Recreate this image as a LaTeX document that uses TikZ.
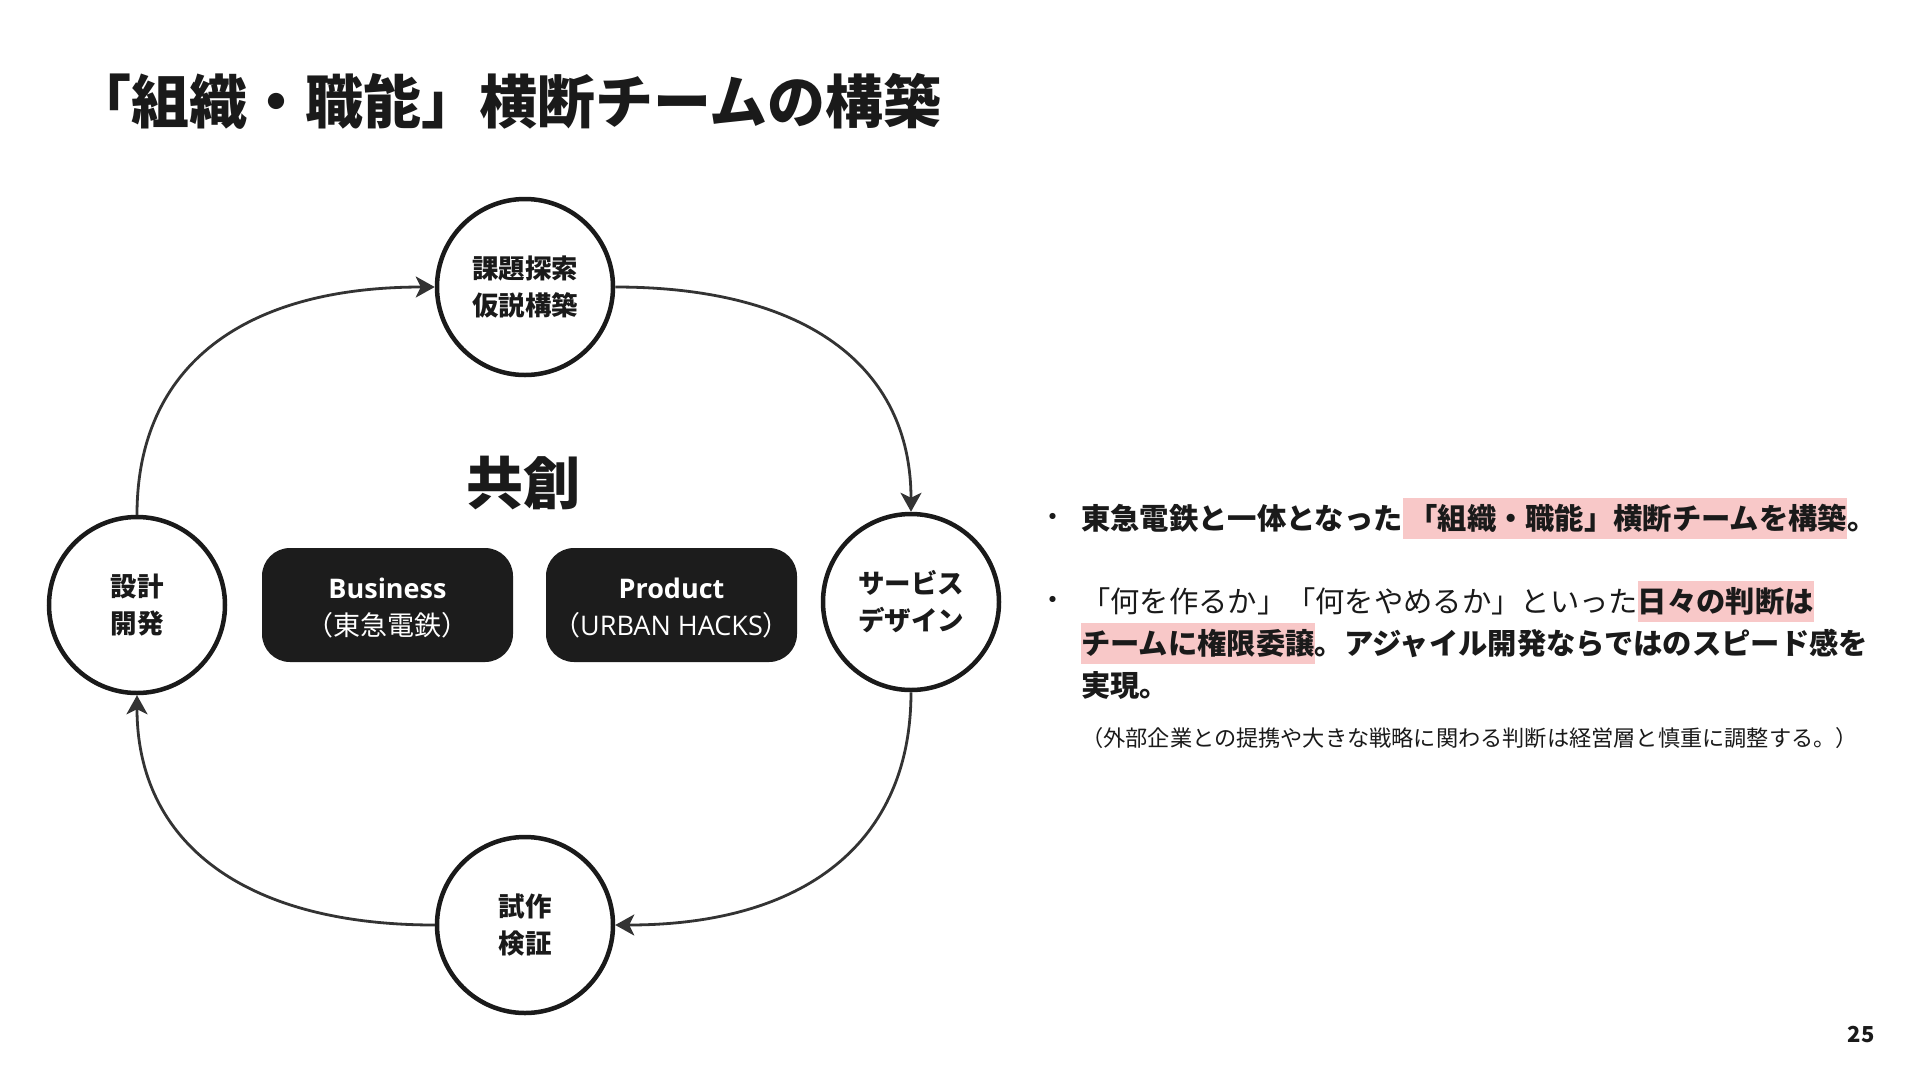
\documentclass[tikz,border=0pt]{standalone}
\usepackage{fontspec}
\setmainfont{Noto Sans CJK JP}
\newfontfamily\latinfont{Open Sans}
\usepackage{xcolor}
\usepackage{tikz}
\usetikzlibrary{arrows.meta,positioning}

\definecolor{inkdark}{HTML}{1A1A1A}
\definecolor{arrowgray}{HTML}{333333}
\definecolor{boxblack}{HTML}{1C1C1C}
\definecolor{hlpink}{HTML}{F8C8C8}
\newcommand{\hlmark}[1]{{\setlength{\fboxsep}{0pt}\colorbox{hlpink}{\rule[-0.33em]{0pt}{1.40em}#1}}}

\begin{document}
\begin{tikzpicture}[x=1pt, y=-1pt,
  stage/.style={circle, draw=inkdark, line width=4.5pt, fill=white, minimum size=176pt, inner sep=0pt,
    align=center, text=inkdark, font=\fontsize{26.5}{37}\selectfont\bfseries},
  team/.style={rectangle, rounded corners=28pt, fill=boxblack, minimum width=251pt, minimum height=114pt,
    align=center, text=white, font=\fontsize{27}{37}\selectfont},
  flow/.style={draw=arrowgray, line width=2.8pt, -{Stealth[length=19pt, width=21pt, inset=5pt]}},
  body/.style={anchor=base west, inner sep=0pt, text=inkdark, font=\fontsize{29.3}{42}\selectfont}]

\fill[white] (0,0) rectangle (1920,1080);
\useasboundingbox (0,0) rectangle (1920,1080);

% Title
\node[anchor=base west, inner sep=0pt, text=inkdark, font=\fontsize{58}{58}\selectfont\bfseries] (title) at (73,123)
  {「組織・職能」横断チームの構築};

% Cycle stages
\node[stage] (explore) at (525,287) {課題探索\\仮説構築};
\node[stage] (service) at (911,602) {サービス\\デザイン};
\node[stage] (trial)   at (525,925) {試作\\検証};
\node[stage] (develop) at (137,605) {設計\\開発};

% Cycle arrows
\draw[flow] (develop.north) .. controls +(0,-150) and +(-190,0) .. (explore.west);
\draw[flow] (explore.east) .. controls +(190,0) and +(0,-146) .. (service.north);
\draw[flow] (service.south) .. controls +(0,150) and +(190,0) .. (trial.east);
\draw[flow] (trial.west) .. controls +(-190,0) and +(0,148) .. (develop.south);

% Centre
\node[text=inkdark, inner sep=0pt, font=\fontsize{57}{57}\selectfont\bfseries] (kyoso) at (523,483) {共創};
\node[team] (biz)  at (387.5,605) {};
\node[team] (prod) at (671.5,605) {};
\node[text=white, align=center, font=\fontsize{27}{37}\selectfont] (biztext) at (387.5,608)
  {{\latinfont\bfseries Business}\\（東急電鉄）};
\node[text=white, align=center, font=\fontsize{27}{37}\selectfont] (prodtext) at (671.5,608)
  {{\latinfont\bfseries Product}\\（{\latinfont URBAN HACKS}）};

% Right-hand notes
\node[text=inkdark, font=\fontsize{29}{29}\selectfont] (dot1) at (1053,520) {・};
\node[body] (note1) at (1081,529)
  {\bfseries 東急電鉄と一体となった\hlmark{\hspace{0.2em}「組織・職能」横断チームを構築}。};

\node[text=inkdark, font=\fontsize{29}{29}\selectfont] (dot2) at (1053,603) {・};
\node[body] (note2a) at (1081,612) {「何を作るか」「何をやめるか」といった\hlmark{\bfseries 日々の判断は}};
\node[body] (note2b) at (1081,654) {\bfseries\hlmark{チームに権限委譲}。アジャイル開発ならではのスピード感を};
\node[body] (note2c) at (1081,696) {\bfseries 実現。};
\node[body, font=\fontsize{22.2}{26}\selectfont] (note3) at (1081,746)
  {（外部企業との提携や大きな戦略に関わる判断は経営層と慎重に調整する。）};

% Page number
\node[text=inkdark, font=\fontsize{22}{22}\selectfont\bfseries] (page) at (1861,1034) {25};

\end{tikzpicture}
\end{document}
